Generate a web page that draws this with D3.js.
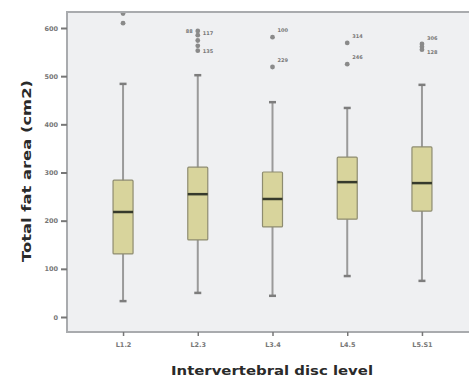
<!DOCTYPE html>
<html>
<head>
<meta charset="utf-8">
<script src="https://cdn.jsdelivr.net/npm/d3@7"></script>
<style>
  html, body { margin: 0; padding: 0; background: #fff; }
  svg { display: block; font-family: "DejaVu Sans", sans-serif; }
</style>
</head>
<body>
<div id="chart"></div>
<script>
const levels = ["L1.2", "L2.3", "L3.4", "L4.5", "L5.S1"];
const lowWhisker = [33, 50, 44, 85, 75];
const q1 = [131, 160, 187, 203, 220];
const median = [218, 255, 245, 280, 278];
const q3 = [284, 311, 301, 332, 353];
const highWhisker = [484, 502, 446, 434, 482];
const yTicks = [0, 100, 200, 300, 400, 500, 600];

// outliers: [level, value, case label, label side, label offset]
const outliers = [
  ["L1.2", 610, "", "r", 0],
  ["L1.2", 630, "61", "r", -3],
  ["L2.3", 594, "88", "l", 0],
  ["L2.3", 585, "117", "r", -2],
  ["L2.3", 574, "", "r", 0],
  ["L2.3", 563, "", "r", 0],
  ["L2.3", 553, "135", "r", 1],
  ["L3.4", 581, "100", "r", -7],
  ["L3.4", 519, "229", "r", -7],
  ["L4.5", 569, "314", "r", -7],
  ["L4.5", 525, "246", "r", -7],
  ["L5.S1", 567, "306", "r", -6],
  ["L5.S1", 561, "", "r", 0],
  ["L5.S1", 555, "128", "r", 3]
];

const data = levels.map((lvl, i) => ({
  level: lvl,
  lo: lowWhisker[i], q1: q1[i], med: median[i], q3: q3[i], hi: highWhisker[i]
}));

const width = 469, height = 381;
const plot = { left: 67, right: 478, top: 12, bottom: 332 };

const svg = d3.select("#chart").append("svg")
  .attr("width", width).attr("height", height);

const x = d3.scalePoint()
  .domain(levels)
  .range([plot.left, plot.right])
  .padding(0.75);

const y = d3.scaleLinear()
  .domain([0, 600])
  .range([317, 28]);

// plot background
svg.append("rect")
  .attr("x", plot.left).attr("y", plot.top)
  .attr("width", plot.right - plot.left).attr("height", plot.bottom - plot.top)
  .attr("fill", "#eff0f2")
  .attr("stroke", "#a9abae")
  .attr("stroke-width", 2);

// y axis
const yAxis = svg.append("g")
  .attr("transform", `translate(${plot.left},0)`)
  .call(d3.axisLeft(y).tickValues(yTicks).tickSize(6).tickPadding(3))
  .call(g => g.select(".domain").remove());
yAxis.selectAll("line").attr("stroke", "#777").attr("stroke-width", 2);
yAxis.selectAll("text")
  .attr("fill", "#777")
  .attr("font-size", 6.5)
  .attr("font-weight", "bold")
  .attr("font-family", "'DejaVu Sans', sans-serif");

// x axis
const xAxis = svg.append("g")
  .attr("transform", `translate(0,${plot.bottom})`)
  .call(d3.axisBottom(x).tickSize(4).tickPadding(6))
  .call(g => g.select(".domain").remove());
xAxis.selectAll("line").attr("stroke", "#777").attr("stroke-width", 1.5);
xAxis.selectAll("text")
  .attr("fill", "#777")
  .attr("font-size", 6.5)
  .attr("font-weight", "bold")
  .attr("font-family", "'DejaVu Sans', sans-serif");

const boxW = 20, capW = 7;
const g = svg.append("g");

// whiskers
g.selectAll(".whisker")
  .data(data)
  .join("line")
  .attr("x1", d => x(d.level)).attr("x2", d => x(d.level))
  .attr("y1", d => y(d.lo)).attr("y2", d => y(d.hi))
  .attr("stroke", "#9a9a9a")
  .attr("stroke-width", 2);

// caps
["lo", "hi"].forEach(k => {
  g.selectAll(`.cap-${k}`)
    .data(data)
    .join("line")
    .attr("x1", d => x(d.level) - capW / 2).attr("x2", d => x(d.level) + capW / 2)
    .attr("y1", d => y(d[k])).attr("y2", d => y(d[k]))
    .attr("stroke", "#7d7d7d")
    .attr("stroke-width", 2.5);
});

// boxes
g.selectAll(".box")
  .data(data)
  .join("rect")
  .attr("x", d => x(d.level) - boxW / 2)
  .attr("width", boxW)
  .attr("y", d => y(d.q3))
  .attr("height", d => y(d.q1) - y(d.q3))
  .attr("fill", "#d8d49c")
  .attr("stroke", "#8e8c70")
  .attr("stroke-width", 1.2)
  .attr("rx", 1);

// medians
g.selectAll(".median")
  .data(data)
  .join("line")
  .attr("x1", d => x(d.level) - boxW / 2).attr("x2", d => x(d.level) + boxW / 2)
  .attr("y1", d => y(d.med)).attr("y2", d => y(d.med))
  .attr("stroke", "#363a2c")
  .attr("stroke-width", 2.5);

// outliers (clipped to plot)
svg.append("clipPath").attr("id", "clip")
  .append("rect")
  .attr("x", plot.left).attr("y", plot.top + 1)
  .attr("width", plot.right - plot.left).attr("height", plot.bottom - plot.top);

const og = svg.append("g").attr("clip-path", "url(#clip)");
og.selectAll("circle")
  .data(outliers)
  .join("circle")
  .attr("cx", d => x(d[0]))
  .attr("cy", d => y(d[1]))
  .attr("r", 2.4)
  .attr("fill", "#8a8a8a");

og.selectAll("text")
  .data(outliers.filter(d => d[2]))
  .join("text")
  .attr("x", d => x(d[0]) + (d[3] === "l" ? -5 : 5))
  .attr("y", d => y(d[1]) + d[4])
  .attr("dy", "0.35em")
  .attr("text-anchor", d => d[3] === "l" ? "end" : "start")
  .attr("font-size", 5)
  .attr("font-weight", "bold")
  .attr("fill", "#777")
  .text(d => d[2]);

// axis titles
svg.append("text")
  .attr("x", 272).attr("y", 375)
  .attr("text-anchor", "middle")
  .attr("font-size", 13)
  .attr("font-weight", "bold")
  .attr("fill", "#2a2a2a")
  .attr("textLength", 202)
  .attr("lengthAdjust", "spacingAndGlyphs")
  .text("Intervertebral disc level");

svg.append("text")
  .attr("transform", "translate(31,171) rotate(-90)")
  .attr("text-anchor", "middle")
  .attr("font-size", 13)
  .attr("font-weight", "bold")
  .attr("fill", "#2a2a2a")
  .attr("textLength", 182)
  .attr("lengthAdjust", "spacingAndGlyphs")
  .text("Total fat area (cm2)");
</script>
</body>
</html>
